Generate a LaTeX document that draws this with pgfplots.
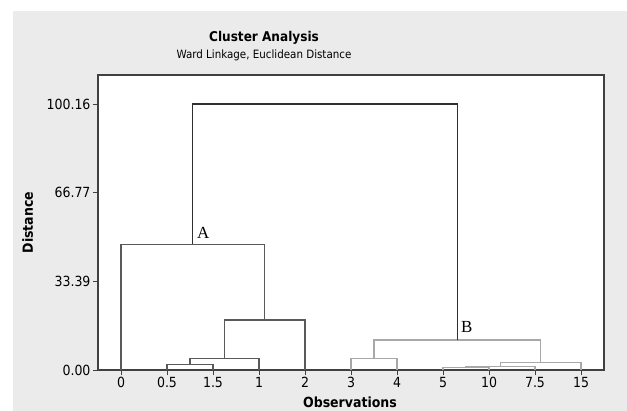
\documentclass[border=0pt]{standalone}
\usepackage{pgfplots}
\pgfplotsset{compat=1.18}
\usepackage{fontspec}
\setmainfont{DejaVu Sans Condensed}
\newfontfamily\seriffont{Liberation Serif}
\definecolor{panel}{HTML}{EBEBEB}
\definecolor{frame}{HTML}{404040}
\definecolor{leftc}{HTML}{5A5A5A}
\definecolor{rightc}{HTML}{A8A8A8}
\definecolor{rootc}{HTML}{303030}
\begin{document}
\begin{tikzpicture}
\path[use as bounding box] (-98bp,-41bp) rectangle (529bp,370bp);
\fill[panel] (-85bp,-41bp) rectangle (529bp,359bp);
\begin{axis}[
  at={(0,0)}, anchor=south west,
  scale only axis, width=506bp, height=295bp,
  xmin=-0.5, xmax=10.5, ymin=0, ymax=111.1,
  axis background/.style={fill=white},
  axis line style={frame, line width=1.3bp},
  xtick={0,1,2,3,4,5,6,7,8,9,10},
  xticklabels={0,0.5,1.5,1,2,3,4,5,10,7.5,15},
  ytick={0,33.39,66.77,100.16},
  yticklabels={0.00,33.39,66.77,100.16},
  xtick pos=bottom, ytick pos=left,
  tick align=outside, major tick length=5bp,
  tick style={frame, line width=0.9bp},
  ticklabel style={font=\fontsize{14}{16}\selectfont, text=black},
  xticklabel style={yshift=1bp},
  yticklabel style={xshift=1bp},
  clip=false,
]
% left cluster
\addplot[leftc, line width=1.2bp] coordinates {(1,0) (1,2.1) (2,2.1) (2,0)};
\addplot[leftc, line width=1.2bp] coordinates {(1.5,2.1) (1.5,4.3) (3,4.3) (3,0)};
\addplot[leftc, line width=1.2bp] coordinates {(2.25,4.3) (2.25,18.8) (4,18.8) (4,0)};
\addplot[leftc, line width=1.2bp] coordinates {(0,0) (0,47.3) (3.125,47.3) (3.125,18.8)};
% right cluster
\addplot[rightc, line width=1.2bp] coordinates {(7,0) (7,1.0) (8,1.0) (8,0)};
\addplot[rightc, line width=1.2bp] coordinates {(7.5,1.0) (7.5,1.4) (9,1.4) (9,0)};
\addplot[rightc, line width=1.2bp] coordinates {(8.25,1.4) (8.25,2.9) (10,2.9) (10,0)};
\addplot[rightc, line width=1.2bp] coordinates {(5,0) (5,4.3) (6,4.3) (6,0)};
\addplot[rightc, line width=1.2bp] coordinates {(5.5,4.3) (5.5,11.3) (9.125,11.3) (9.125,2.9)};
% root
\addplot[rootc, line width=1.2bp] coordinates {(1.5625,47.3) (1.5625,100.16) (7.3125,100.16) (7.3125,11.3)};
\node[anchor=base west, inner sep=0pt, font=\seriffont\fontsize{17}{19}\selectfont] at (axis cs:1.5625,47.3) [xshift=4bp, yshift=6.3bp] {A};
\node[anchor=base west, inner sep=0pt, font=\seriffont\fontsize{17}{19}\selectfont] at (axis cs:7.3125,11.3) [xshift=3.5bp, yshift=7.7bp] {B};
\end{axis}
\node[anchor=base, inner sep=0pt, font=\bfseries\fontsize{13.5}{16}\selectfont] at (166bp,328.5bp) {Cluster Analysis};
\node[anchor=base, inner sep=0pt, font=\fontsize{11.5}{14}\selectfont] at (166bp,311bp) {Ward Linkage, Euclidean Distance};
\node[anchor=base, inner sep=0pt, font=\bfseries\fontsize{14}{16}\selectfont] at (252bp,-37bp) {Observations};
\node[anchor=base, inner sep=0pt, rotate=90, font=\bfseries\fontsize{14}{16}\selectfont] at (-65bp,147.5bp) {Distance};
\end{tikzpicture}
\end{document}
